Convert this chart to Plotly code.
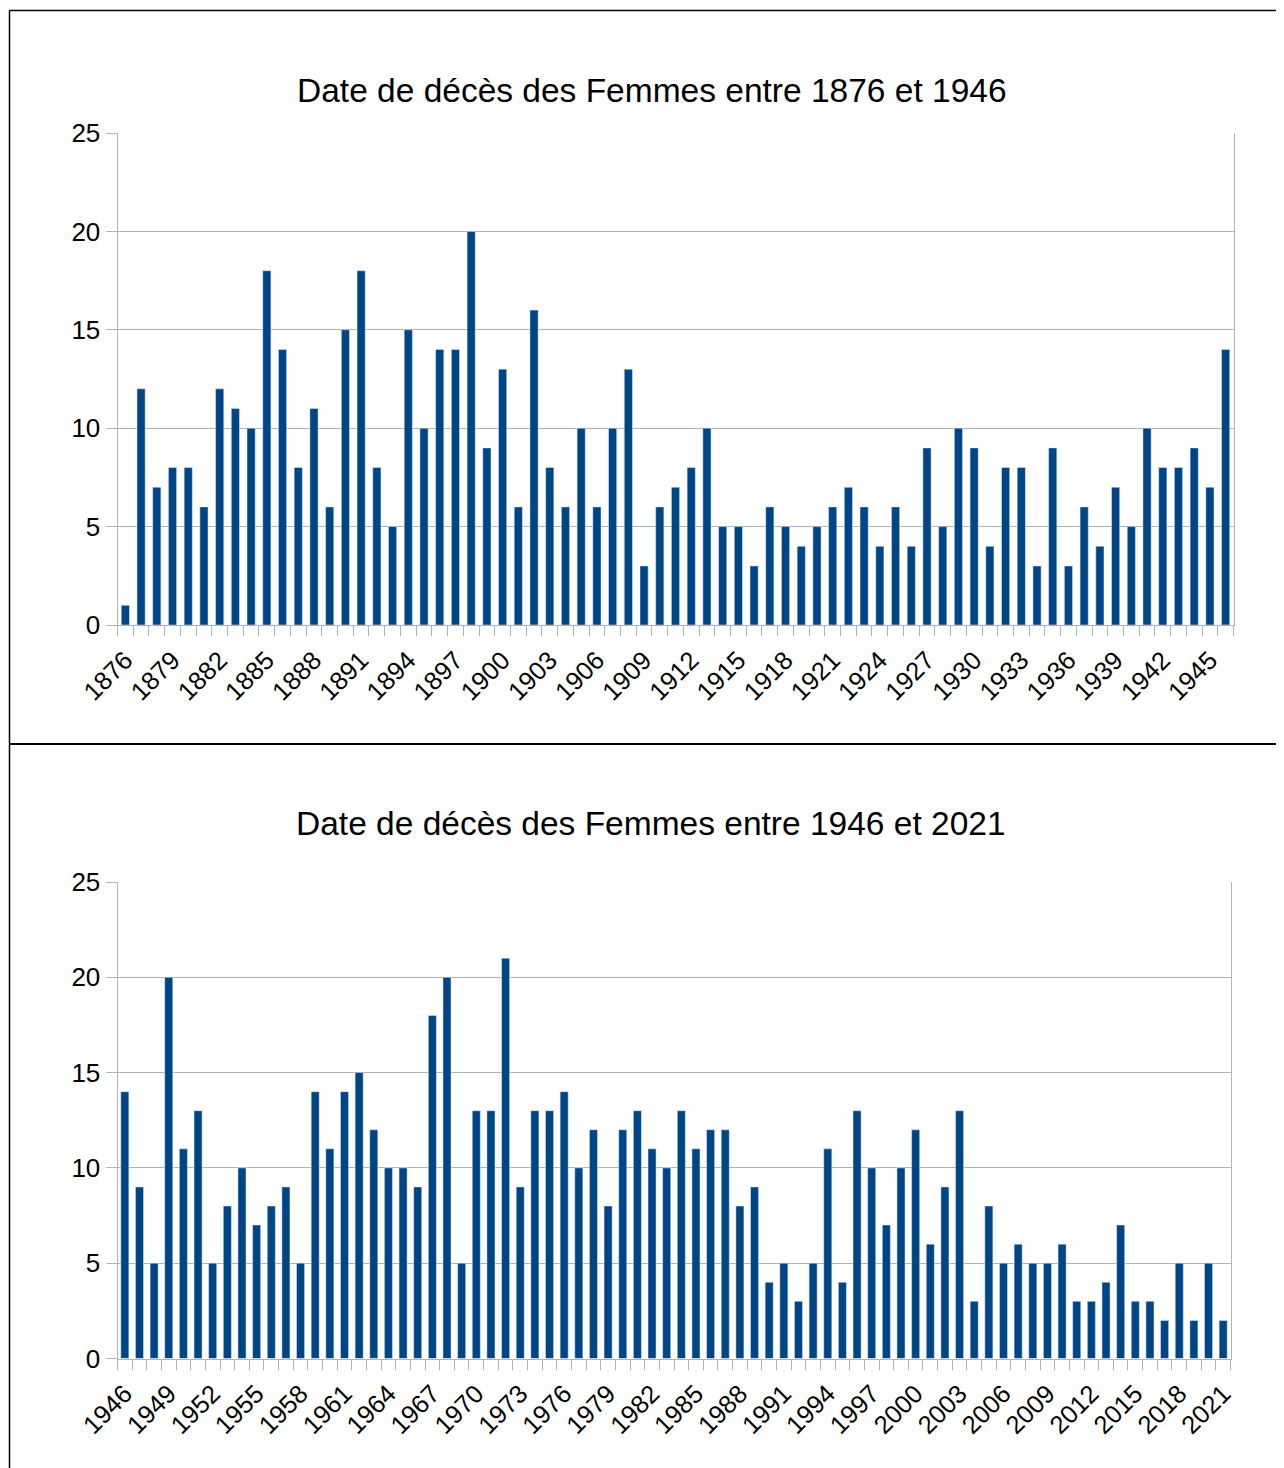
import plotly.graph_objects as go

# ---------------- data ----------------
years_top = list(range(1876, 1947))
deaths_top = [1, 12, 7, 8, 8, 6, 12, 11, 10, 18,
              14, 8, 11, 6, 15, 18, 8, 5, 15, 10,
              14, 14, 20, 9, 13, 6, 16, 8, 6, 10,
              6, 10, 13, 3, 6, 7, 8, 10, 5, 5,
              3, 6, 5, 4, 5, 6, 7, 6, 4, 6,
              4, 9, 5, 10, 9, 4, 8, 8, 3, 9,
              3, 6, 4, 7, 5, 10, 8, 8, 9, 7,
              14]
ticks_top = [1876, 1879, 1882, 1885, 1888, 1891, 1894, 1897, 1900, 1903, 1906, 1909,
             1912, 1915, 1918, 1921, 1924, 1927, 1930, 1933, 1936, 1939, 1942, 1945]

years_bot = list(range(1946, 2022))
deaths_bot = [14, 9, 5, 20, 11, 13, 5, 8, 10, 7,
              8, 9, 5, 14, 11, 14, 15, 12, 10, 10,
              9, 18, 20, 5, 13, 13, 21, 9, 13, 13,
              14, 10, 12, 8, 12, 13, 11, 10, 13, 11,
              12, 12, 8, 9, 4, 5, 3, 5, 11, 4,
              13, 10, 7, 10, 12, 6, 9, 13, 3, 8,
              5, 6, 5, 5, 6, 3, 3, 4, 7, 3,
              3, 2, 5, 2, 5, 2]
ticks_bot = [1946, 1949, 1952, 1955, 1958, 1961, 1964, 1967, 1970, 1973, 1976, 1979,
             1982, 1985, 1988, 1991, 1994, 1997, 2000, 2003, 2006, 2009, 2012, 2015,
             2018, 2021]

title_top = "Date de décès des Femmes entre 1876 et 1946"
title_bot = "Date de décès des Femmes entre 1946 et 2021"

# ---------------- layout helpers ----------------
# the page body has an 8px margin: the figure starts at (8, 8) in the window
OFF = 8
W, H = 1284 - OFF, 1468 - OFF
def px(x):
    return (x - OFF) / W
def py(y):
    return 1 - (y - OFF) / H

BAR = "#004586"
GRID = "#b3b3b3"
FONT = "Liberation Sans, Arial, sans-serif"

fig = go.Figure()
fig.add_trace(go.Bar(x=years_top, y=deaths_top, marker_color=BAR, width=0.52,
                     xaxis="x", yaxis="y", showlegend=False))
fig.add_trace(go.Bar(x=years_bot, y=deaths_bot, marker_color=BAR, width=0.55,
                     xaxis="x2", yaxis="y2", showlegend=False))

def xaxis_cfg(domain, yanchor, years, ticks):
    return dict(
        domain=domain, anchor=yanchor, automargin=False,
        range=[years[0] - 0.5, years[-1] + 0.5],
        tickmode="array", tickvals=ticks, ticktext=[str(t) for t in ticks],
        tickangle=-45, tickfont=dict(family=FONT, size=25.5, color="black"),
        ticks="outside", ticklen=9, tickcolor="rgba(0,0,0,0)",
        showgrid=False, zeroline=False,
        showline=True, linecolor=GRID, linewidth=1,
        minor=dict(ticks="outside", ticklen=10, tickcolor=GRID,
                   tick0=years[0] - 0.5, dtick=1, showgrid=False),
        fixedrange=True,
    )

def yaxis_cfg(domain, xanchor):
    return dict(
        domain=domain, anchor=xanchor, automargin=False,
        range=[0, 25], dtick=5, tick0=0,
        tickfont=dict(family=FONT, size=26, color="black"),
        ticks="outside", ticklen=11, tickcolor=GRID,
        showgrid=True, gridcolor=GRID, gridwidth=1,
        zeroline=False,
        showline=True, linecolor=GRID, linewidth=1, mirror=True,
        fixedrange=True,
    )

fig.update_layout(
    width=W, height=H,
    margin=dict(l=0, r=0, t=0, b=0, pad=0, autoexpand=False),
    paper_bgcolor="white", plot_bgcolor="white",
    font=dict(family=FONT, color="black"),
    xaxis=xaxis_cfg([px(117.5), px(1233.5)], "y", years_top, ticks_top),
    yaxis=yaxis_cfg([py(625), py(133)], "x"),
    xaxis2=xaxis_cfg([px(117.5), px(1230.5)], "y2", years_bot, ticks_bot),
    yaxis2=yaxis_cfg([py(1358.5), py(882)], "x2"),
    annotations=[
        dict(text=title_top, x=px(652), y=py(90), xref="paper", yref="paper",
             xanchor="center", yanchor="middle", showarrow=False,
             font=dict(family=FONT, size=33.5, color="black")),
        dict(text=title_bot, x=px(651), y=py(823), xref="paper", yref="paper",
             xanchor="center", yanchor="middle", showarrow=False,
             font=dict(family=FONT, size=33.5, color="black")),
    ],
    shapes=[
        dict(type="line", xref="paper", yref="paper", x0=px(9.5), x1=px(1300),
             y0=py(10.5), y1=py(10.5), line=dict(color="black", width=1.5)),
        dict(type="line", xref="paper", yref="paper", x0=px(9.5), x1=px(9.5),
             y0=py(10.5), y1=py(1480), line=dict(color="black", width=1.5)),
        dict(type="line", xref="paper", yref="paper", x0=px(9.5), x1=px(1300),
             y0=py(744), y1=py(744), line=dict(color="black", width=2)),
    ],
)

fig.write_html("out.html")
